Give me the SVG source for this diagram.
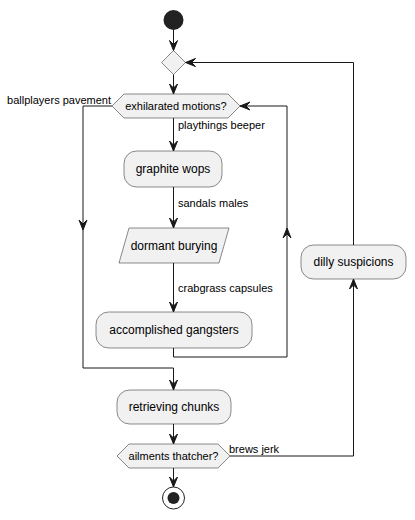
<svg xmlns="http://www.w3.org/2000/svg" width="415" height="520" viewBox="0 0 415 520">
<style>
.n{fill:#F1F1F1;stroke:#181818;stroke-width:0.5}
.t{font-family:"Liberation Sans",Arial,sans-serif;font-size:12px;fill:#000;text-anchor:middle}
.s{font-size:11px}
.l{font-family:"Liberation Sans",Arial,sans-serif;font-size:11px;fill:#000}
.c{fill:none;stroke:#181818;stroke-width:1}
.a{fill:#181818;stroke:#181818;stroke-width:1}
</style>
<rect width="415" height="520" fill="#FFFFFF"/>
<g id="start"><circle cx="173.5" cy="20" r="10" fill="#222222"/></g>
<g id="merge"><polygon class="n" points="173.5,50.5 185.5,62.5 173.5,74.5 161.5,62.5"/></g>
<g id="decision1"><polygon class="n" points="112,106 124,94 228,94 240,106 228,118 124,118"/><text class="t s" x="176" y="110">exhilarated motions?</text></g>
<g id="graphite"><rect class="n" x="124" y="151" width="98" height="36" rx="12.5"/><text class="t" x="173" y="173">graphite wops</text></g>
<g id="dormant"><polygon class="n" points="129,228 229,228 219,263 119,263"/><text class="t" x="174" y="250">dormant burying</text></g>
<g id="accomplished"><rect class="n" x="96" y="312" width="156" height="36" rx="12.5"/><text class="t" x="174" y="334">accomplished gangsters</text></g>
<g id="retrieving"><rect class="n" x="117" y="390" width="114" height="34" rx="12.5"/><text class="t" x="174" y="411">retrieving chunks</text></g>
<g id="decision2"><polygon class="n" points="117,456 129,444 218,444 230,456 218,468 129,468"/><text class="t s" x="173.5" y="460">ailments thatcher?</text></g>
<g id="dilly"><rect class="n" x="301" y="245" width="105" height="34" rx="12.5"/><text class="t" x="353.5" y="266">dilly suspicions</text></g>
<g id="end"><circle cx="173.5" cy="498" r="11" fill="none" stroke="#222222" stroke-width="1"/><circle cx="173.5" cy="498" r="6" fill="#222222"/></g>
<g id="connectors">
<line class="c" x1="173.5" y1="30" x2="173.5" y2="50"/>
<polygon class="a" points="169.5,40.5 173.5,50.5 177.5,40.5 173.5,44.5"/>
<line class="c" x1="173.5" y1="74.5" x2="173.5" y2="94"/>
<polygon class="a" points="169.5,84 173.5,94 177.5,84 173.5,88"/>
<line class="c" x1="173.5" y1="118" x2="173.5" y2="151"/>
<polygon class="a" points="169.5,141 173.5,151 177.5,141 173.5,145"/>
<text class="l" x="178" y="129">playthings beeper</text>
<line class="c" x1="173.5" y1="187" x2="173.5" y2="228"/>
<polygon class="a" points="169.5,218 173.5,228 177.5,218 173.5,222"/>
<text class="l" x="178" y="207">sandals males</text>
<line class="c" x1="173.5" y1="263" x2="173.5" y2="312"/>
<polygon class="a" points="169.5,302 173.5,312 177.5,302 173.5,306"/>
<text class="l" x="178" y="292">crabgrass capsules</text>
<polyline class="c" points="173.5,348 173.5,357 287,357 287,106 240,106"/>
<polygon class="a" points="283,238 287,228 291,238 287,234"/>
<polygon class="a" points="250,102 240,106 250,110 246,106"/>
<polyline class="c" points="112,106 83,106 83,368 173.5,368 173.5,390"/>
<polygon class="a" points="79,220 83,230 87,220 83,224"/>
<polygon class="a" points="169.5,380 173.5,390 177.5,380 173.5,384"/>
<text class="l" x="111" y="104" text-anchor="end">ballplayers pavement</text>
<line class="c" x1="173.5" y1="424" x2="173.5" y2="444"/>
<polygon class="a" points="169.5,434 173.5,444 177.5,434 173.5,438"/>
<line class="c" x1="173.5" y1="468" x2="173.5" y2="487"/>
<polygon class="a" points="169.5,477 173.5,487 177.5,477 173.5,481"/>
<polyline class="c" points="230,456 353.5,456 353.5,279"/>
<polygon class="a" points="349.5,289 353.5,279 357.5,289 353.5,285"/>
<text class="l" x="229" y="453">brews jerk</text>
<polyline class="c" points="353.5,245 353.5,62.5 185.5,62.5"/>
<polygon class="a" points="195.5,58.5 185.5,62.5 195.5,66.5 191.5,62.5"/>
</g>
</svg>
